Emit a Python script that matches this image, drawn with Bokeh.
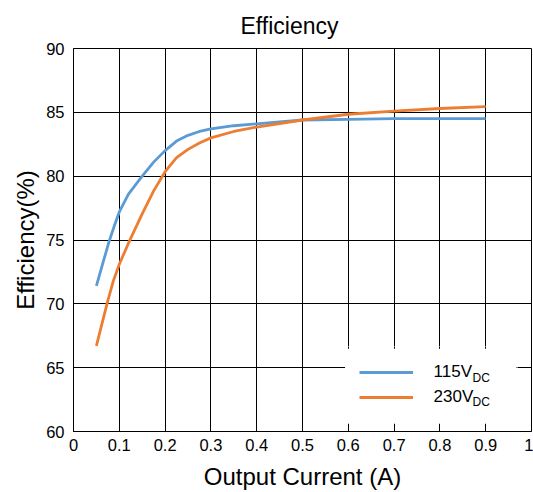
from bokeh.plotting import figure
from bokeh.models import Legend, LegendItem, Label, FixedTicker, Range1d, BoxAnnotation
from bokeh.embed import file_html
from bokeh.resources import INLINE

# ---- data ----
current_115 = [0.05, 0.065, 0.077, 0.09, 0.10, 0.12, 0.15, 0.175, 0.20, 0.225, 0.25, 0.275, 0.30, 0.35, 0.40, 0.50, 0.60, 0.70, 0.80, 0.90]
eff_115 = [71.4, 73.3, 74.8, 76.2, 77.2, 78.6, 80.0, 81.1, 82.0, 82.75, 83.2, 83.5, 83.7, 83.95, 84.1, 84.4, 84.45, 84.5, 84.5, 84.5]

current_230 = [0.05, 0.064, 0.075, 0.087, 0.10, 0.12, 0.15, 0.175, 0.20, 0.225, 0.25, 0.275, 0.30, 0.35, 0.40, 0.50, 0.60, 0.70, 0.80, 0.90]
eff_230 = [66.7, 68.7, 70.25, 71.8, 73.1, 74.75, 77.05, 78.85, 80.35, 81.45, 82.1, 82.6, 83.0, 83.5, 83.85, 84.4, 84.85, 85.1, 85.3, 85.45]

series_names = ["115V", "230V"]
series_sub = "DC"

x_ticks = [0, 0.1, 0.2, 0.3, 0.4, 0.5, 0.6, 0.7, 0.8, 0.9, 1]
x_tick_labels = ["0", "0.1", "0.2", "0.3", "0.4", "0.5", "0.6", "0.7", "0.8", "0.9", "1"]
y_ticks = [60, 65, 70, 75, 80, 85, 90]
y_tick_labels = ["60", "65", "70", "75", "80", "85", "90"]

x_title = "Output Current (A)"
y_title = "Efficiency(%)"

FONT = "Liberation Sans"
BLUE = "#5B9BD5"
ORANGE = "#ED7D31"

p = figure(width=533, height=492, output_backend="svg", toolbar_location=None,
           x_range=Range1d(0, 1), y_range=Range1d(60, 90),
           min_border_left=73, min_border_top=48, min_border_right=2, min_border_bottom=61,
           title="Efficiency")

p.title.text_font = FONT
p.title.text_font_size = "23px"
p.title.text_font_style = "normal"
p.title.text_color = "black"
p.title.align = "left"
p.title.offset = 167
p.title.standoff = 20

p.outline_line_color = "black"
p.outline_line_width = 1
p.background_fill_color = "white"
p.border_fill_color = "white"

p.xaxis.ticker = FixedTicker(ticks=x_ticks)
p.yaxis.ticker = FixedTicker(ticks=y_ticks)
p.xaxis.major_label_overrides = dict(zip(x_ticks, x_tick_labels))
p.yaxis.major_label_overrides = dict(zip(y_ticks, y_tick_labels))

for ax in (p.xaxis[0], p.yaxis[0]):
    ax.major_tick_line_color = None
    ax.minor_tick_line_color = None
    ax.major_tick_out = 0
    ax.major_tick_in = 0
    ax.minor_tick_out = 0
    ax.minor_tick_in = 0
    ax.axis_line_color = "black"
    ax.major_label_text_font = FONT
    ax.major_label_text_font_size = "16.5px"
    ax.major_label_text_color = "black"
    ax.axis_label_text_font = FONT
    ax.axis_label_text_font_size = "24px"
    ax.axis_label_text_font_style = "normal"
    ax.axis_label_text_color = "black"

p.xaxis.axis_label = x_title
p.yaxis.axis_label = y_title
p.xaxis.major_label_standoff = 7
p.yaxis.major_label_standoff = 9
p.xaxis.axis_label_standoff = 9
p.yaxis.axis_label_standoff = 4

p.xgrid.ticker = FixedTicker(ticks=x_ticks)
p.ygrid.ticker = FixedTicker(ticks=y_ticks)
p.grid.grid_line_color = "black"
p.grid.grid_line_width = 1
p.grid.grid_line_alpha = 1

r1 = p.line(current_115, eff_115, line_color=BLUE, line_width=2.8, line_join="round")
r2 = p.line(current_230, eff_230, line_color=ORANGE, line_width=2.8, line_join="round")

# white legend panel covering the grid
p.add_layout(BoxAnnotation(left=271.6, right=443, bottom=7.7, top=82.7,
                           left_units="screen", right_units="screen",
                           bottom_units="screen", top_units="screen",
                           fill_color="white", fill_alpha=1, line_color=None,
                           level="annotation"))

legend = Legend(items=[LegendItem(label=series_names[0], renderers=[r1]),
                       LegendItem(label=series_names[1], renderers=[r2])],
                location=(271.6, 7.7), padding=13, spacing=1, margin=0,
                glyph_width=54, glyph_height=24, label_height=24, label_width=70,
                label_standoff=21, border_line_color="white", border_line_width=1,
                background_fill_color="white", background_fill_alpha=0,
                label_text_font=FONT, label_text_font_size="17px", label_text_color="black")
p.add_layout(legend, "center")

for ypos in [54, 29.3]:
    p.add_layout(Label(x=399, y=ypos, x_units="screen", y_units="screen", text=series_sub,
                       text_font=FONT, text_font_size="12px", text_color="black",
                       text_baseline="alphabetic", text_align="left", level="overlay"))

open("out.html", "w").write(file_html(p, INLINE))
